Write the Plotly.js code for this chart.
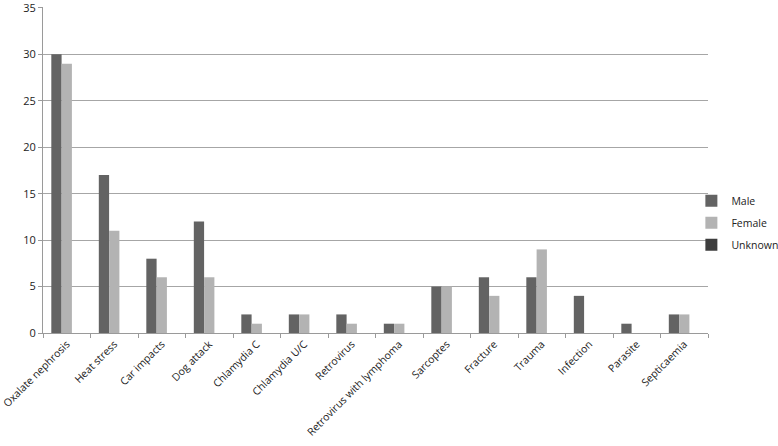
<!DOCTYPE html>
<html>
<head>
<meta charset="utf-8">
<script src="https://cdn.plot.ly/plotly-3.0.1.min.js"></script>
<style>
  body { margin: 0; background: #fff; }
  #chart { width: 778px; height: 446px; }
</style>
</head>
<body>
<div id="chart"></div>
<script>
// causes of death, counts by sex
const causes = [
  "Oxalate nephrosis", "Heat stress", "Car impacts", "Dog attack",
  "Chlamydia C", "Chlamydia U/C", "Retrovirus", "Retrovirus with lymphoma",
  "Sarcoptes", "Fracture", "Trauma", "Infection", "Parasite", "Septicaemia"
];
const male    = [30, 17, 8, 12, 2, 2, 2, 1, 5, 6, 6, 4, 1, 2];
const female  = [29, 11, 6, 6, 1, 2, 1, 1, 5, 4, 9, 0, 0, 2];
const unknown = [0, 0, 0, 0, 0, 0, 0, 0, 0, 0, 0, 0, 0, 0];

const yTicks = [0, 5, 10, 15, 20, 25, 30, 35];

function barTrace(name, values, color) {
  return {
    type: 'bar',
    name: name,
    legendgroup: name,
    x: causes,
    y: values,
    marker: { color: color, line: { width: 0 } },
    hoverinfo: 'x+y+name'
  };
}

const data = [
  barTrace('Male', male, '#636363'),
  barTrace('Female', female, '#b3b3b3'),
  barTrace('Unknown', unknown, '#3d3d3d')
];

const font = { family: 'Open Sans, Liberation Sans, sans-serif', size: 11, color: '#222' };

const layout = {
  width: 778,
  height: 446,
  margin: { l: 43, r: 70, t: 7, b: 113, autoexpand: false },
  paper_bgcolor: '#fff',
  plot_bgcolor: '#fff',
  font: font,
  barmode: 'group',
  bargap: 0.35,
  bargroupgap: 0,
  showlegend: true,
  legend: {
    x: 0.975, y: 0.45, xanchor: 'left', yanchor: 'top',
    font: { family: font.family, size: 10.5, color: '#222' },
    itemwidth: 30,
    tracegroupgap: 3,
    bgcolor: 'rgba(0,0,0,0)'
  },
  xaxis: {
    type: 'category',
    tickangle: -45,
    showgrid: false,
    showline: true,
    linecolor: '#9a9a9a',
    linewidth: 1,
    ticks: 'outside',
    tickson: 'boundaries',
    ticklen: 4,
    tickcolor: '#9a9a9a',
    tickfont: { family: font.family, size: 10.5, color: '#222' }
  },
  yaxis: {
    range: [0, 35.1],
    tickvals: yTicks,
    showgrid: true,
    gridcolor: '#a6a6a6',
    gridwidth: 1,
    zeroline: false,
    showline: true,
    linecolor: '#9a9a9a',
    ticks: 'outside',
    ticklen: 4,
    tickcolor: '#9a9a9a',
    ticklabeloverflow: 'allow',
    tickfont: { family: font.family, size: 11, color: '#222' },
    fixedrange: true
  }
};

Plotly.newPlot('chart', data, layout, { displayModeBar: false, staticPlot: true });
</script>
</body>
</html>
